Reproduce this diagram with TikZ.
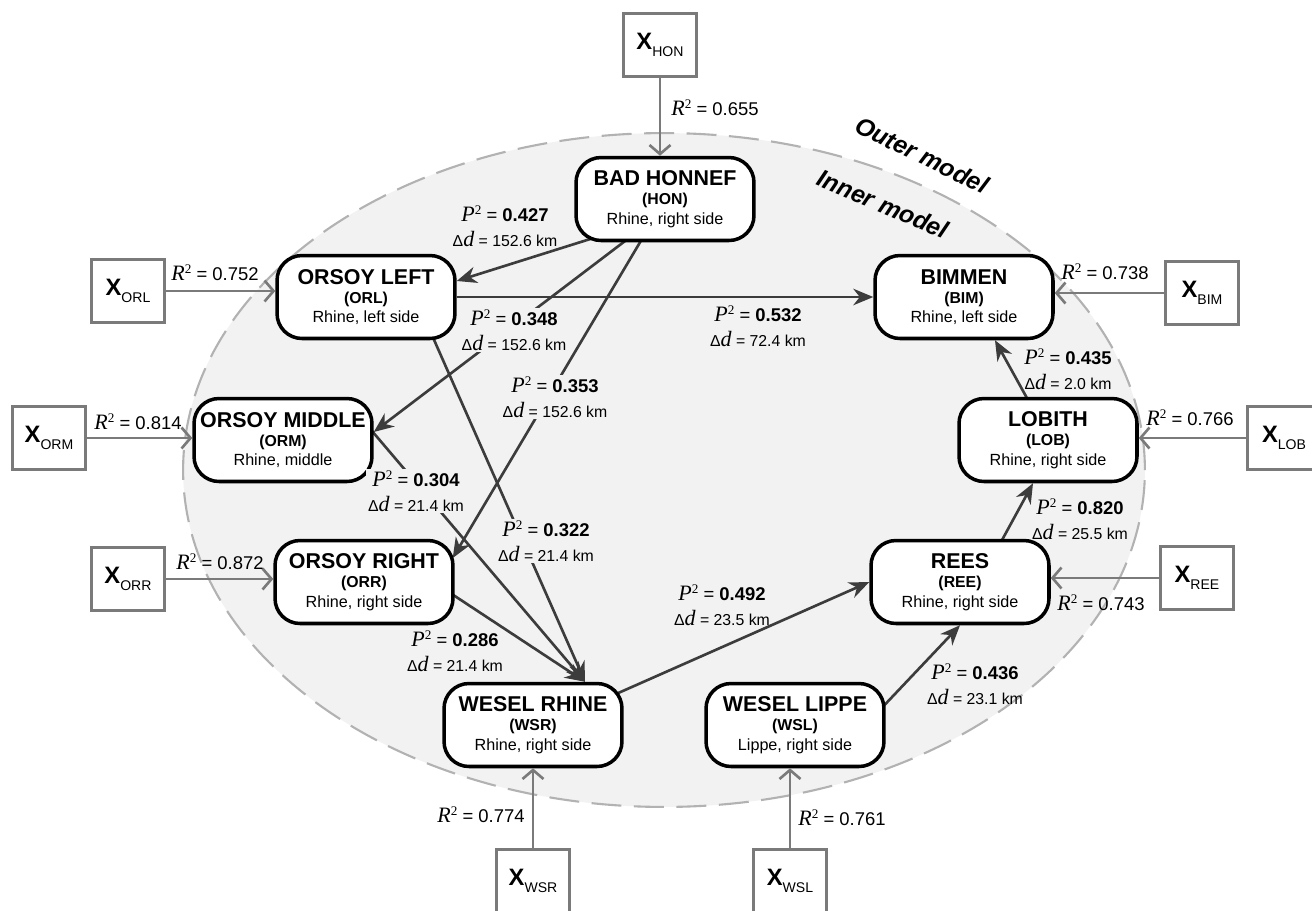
\documentclass[tikz,border=0pt]{standalone}
\usepackage{fontspec}
\setmainfont{Liberation Sans}
\newfontfamily\tmsfont{Liberation Serif}
\usetikzlibrary{arrows.meta,calc,backgrounds}
\definecolor{ink}{RGB}{0,0,0}
\definecolor{innerink}{RGB}{60,60,60}
\definecolor{outerink}{RGB}{122,122,122}
\definecolor{bggray}{RGB}{242,242,242}
\definecolor{dashgray}{RGB}{178,178,178}
\newcommand{\sitetitle}{\fontsize{12.2}{11}\selectfont\bfseries}
\newcommand{\siteabbr}{\fontsize{9}{11}\selectfont\bfseries}
\newcommand{\sqvar}[1]{{\tmsfont\itshape\fontsize{12.5}{12}\selectfont #1}\raisebox{4.2pt}{\tmsfont\fontsize{7.5}{7}\selectfont 2}}
\newcommand{\deltad}{Δ{\tmsfont\itshape\fontsize{12.5}{12}\selectfont d}}
\newcommand{\pdlabel}[2]{\sqvar{P} = \textbf{#1}\\{\fontsize{9}{14}\selectfont\deltad{} = #2 km}}
\newcommand{\xvar}[1]{{\fontsize{13.5}{13}\selectfont\bfseries X}\raisebox{-4pt}{\fontsize{8}{8}\selectfont #1}}
\tikzset{
  site/.style={draw=ink, fill=white, line width=2pt, rounded corners=0.5cm,
    minimum width=3.56cm, minimum height=1.66cm, align=center, inner sep=0pt,
    font=\fontsize{9.2}{11}\selectfont, text=ink},
  xbox/.style={draw=outerink, fill=white, line width=1.6pt, minimum width=1.46cm,
    minimum height=1.26cm, inner sep=0pt, text=ink},
  inarr/.style={-{Stealth[length=4mm,width=3.3mm]}, line width=1.5pt, draw=innerink},
  outarr/.style={-{Straight Barb[length=1.8mm,width=4.2mm]}, line width=1.5pt, draw=outerink},
  plab/.style={align=center, font=\fontsize{10.5}{14}\selectfont, inner sep=1pt, text=ink},
  plabf/.style={plab, fill=bggray},
  rlab/.style={font=\fontsize{10.5}{12}\selectfont, inner sep=0pt, text=ink},
  modl/.style={font=\fontsize{14}{14}\selectfont\bfseries\itshape, text=ink, inner sep=1pt},
}
\begin{document}
\begin{tikzpicture}[x=0.02cm, y=-0.02cm]
  \useasboundingbox (0,0) rectangle (1312,910);
  % stations
  \node[site] (hon) at (665,199) {{\sitetitle BAD HONNEF}\\{\siteabbr (HON)}\\Rhine, right side};
  \node[site] (orl) at (366,297) {{\sitetitle ORSOY LEFT}\\{\siteabbr (ORL)}\\Rhine, left side};
  \node[site] (orm) at (283,440) {{\sitetitle ORSOY MIDDLE}\\{\siteabbr (ORM)}\\Rhine, middle};
  \node[site] (orr) at (364,582) {{\sitetitle ORSOY RIGHT}\\{\siteabbr (ORR)}\\Rhine, right side};
  \node[site] (wsr) at (533,725) {{\sitetitle WESEL RHINE}\\{\siteabbr (WSR)}\\Rhine, right side};
  \node[site] (wsl) at (795,725) {{\sitetitle WESEL LIPPE}\\{\siteabbr (WSL)}\\Lippe, right side};
  \node[site] (ree) at (960,582) {{\sitetitle REES}\\{\siteabbr (REE)}\\Rhine, right side};
  \node[site] (lob) at (1048,440) {{\sitetitle LOBITH}\\{\siteabbr (LOB)}\\Rhine, right side};
  \node[site] (bim) at (964,297) {{\sitetitle BIMMEN}\\{\siteabbr (BIM)}\\Rhine, left side};
  % outer model variables
  \node[xbox] (xhon) at (660,45) {\xvar{HON}};
  \node[xbox] (xorl) at (128,291) {\xvar{ORL}};
  \node[xbox] (xorm) at (49,438) {\xvar{ORM}};
  \node[xbox] (xorr) at (128,579) {\xvar{ORR}};
  \node[xbox] (xwsr) at (533,881) {\xvar{WSR}};
  \node[xbox] (xwsl) at (790,881) {\xvar{WSL}};
  \node[xbox] (xree) at (1197,578) {\xvar{REE}};
  \node[xbox] (xlob) at (1284,438) {\xvar{LOB}};
  \node[xbox] (xbim) at (1202,293) {\xvar{BIM}};
  \begin{scope}[on background layer]
    \path[fill=bggray, draw=dashgray, line width=1.2pt, dash pattern=on 0.6cm off 0.25cm]
      (664,470) ellipse [x radius=9.62cm, y radius=6.74cm];
    \draw[inarr] ($(hon.south)+(-66,-6)$) -- ($(orl.east)+(0,-16)$);
    \draw[inarr] ($(hon.south)+(-35,-5)$) -- ($(orm.east)+(0,-8)$);
    \draw[inarr] ($(hon.south)+(-22,-5)$) -- ($(orr.east)+(-2,-24)$);
    \draw[inarr] (orl.east) -- (bim.west);
    \draw[inarr] ($(orl.south)+(66,-5)$) -- ($(wsr.north)+(52,0)$);
    \draw[inarr] ($(orm.east)+(-6,-14)$) -- ($(wsr.north)+(52,0)$);
    \draw[inarr] ($(orr.east)+(-6,10)$) -- ($(wsr.north)+(52,0)$);
    \draw[inarr] ($(wsr.east)+(-10,-30)$) -- (ree.west);
    \draw[inarr] ($(wsl.east)+(-5,-16)$) -- (ree.south);
    \draw[inarr] ($(ree.north)+(40,5)$) -- ($(lob.south)+(-15,0)$);
    \draw[inarr] ($(lob.north)+(-19,5)$) -- ($(bim.south)+(31,0)$);
  \end{scope}
  \draw[outarr] (xhon.south) -- (xhon.south |- hon.north);
  \draw[outarr] (xorl.east) -- (xorl.east -| orl.west);
  \draw[outarr] (xorm.east) -- (xorm.east -| orm.west);
  \draw[outarr] (xorr.east) -- (xorr.east -| orr.west);
  \draw[outarr] (xwsr.north) -- (xwsr.north |- wsr.south);
  \draw[outarr] (xwsl.north) -- (xwsl.north |- wsl.south);
  \draw[outarr] (xree.west) -- (xree.west -| ree.east);
  \draw[outarr] (xlob.west) -- (xlob.west -| lob.east);
  \draw[outarr] (xbim.west) -- (xbim.west -| bim.east);
  % path coefficients
  \node[plab] (p427) at (505,226) {\pdlabel{0.427}{152.6}};
  \node[plabf] (p348) at (514,330) {\pdlabel{0.348}{152.6}};
  \node[plabf] (p353) at (555,397) {\pdlabel{0.353}{152.6}};
  \node[plab] (p532) at (758,326) {\pdlabel{0.532}{72.4}};
  \node[plabf] (p304) at (416,491) {\pdlabel{0.304}{21.4}};
  \node[plabf] (p322) at (546,541) {\pdlabel{0.322}{21.4}};
  \node[plab] (p286) at (455,651) {\pdlabel{0.286}{21.4}};
  \node[plab] (p492) at (722,605) {\pdlabel{0.492}{23.5}};
  \node[plab] (p436) at (975,684) {\pdlabel{0.436}{23.1}};
  \node[plab] (p820) at (1080,519) {\pdlabel{0.820}{25.5}};
  \node[plab] (p435) at (1068,369) {\pdlabel{0.435}{2.0}};
  % explained variance
  \node[rlab] (r655) at (715,108) {\sqvar{R} = 0.655};
  \node[rlab] (r752) at (215,273) {\sqvar{R} = 0.752};
  \node[rlab] (r814) at (138,422) {\sqvar{R} = 0.814};
  \node[rlab] (r872) at (220,562) {\sqvar{R} = 0.872};
  \node[rlab] (r774) at (481,815) {\sqvar{R} = 0.774};
  \node[rlab] (r761) at (842,818) {\sqvar{R} = 0.761};
  \node[rlab] (r743) at (1101,603) {\sqvar{R} = 0.743};
  \node[rlab] (r766) at (1190,418) {\sqvar{R} = 0.766};
  \node[rlab] (r738) at (1105,272) {\sqvar{R} = 0.738};
  \node[modl, rotate=-26] (outer) at (922,155) {Outer model};
  \node[modl, rotate=-23] (inner) at (883,204) {Inner model};
\end{tikzpicture}
\end{document}
